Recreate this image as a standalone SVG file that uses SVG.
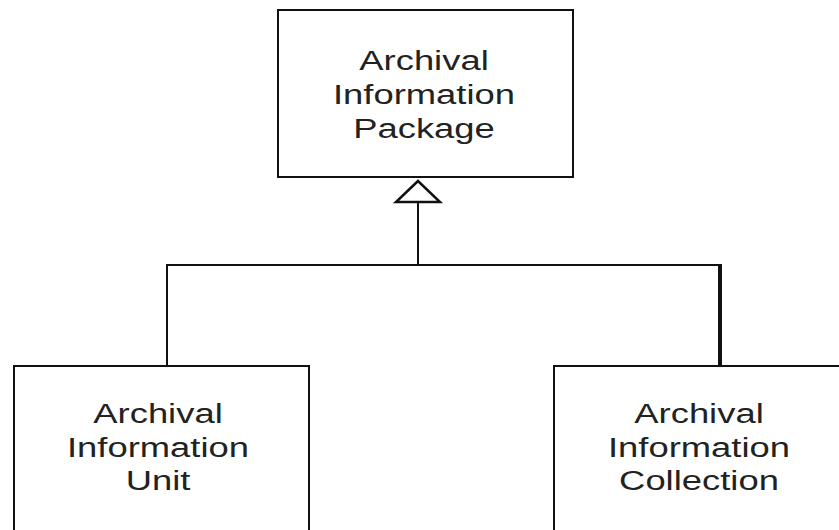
<svg xmlns="http://www.w3.org/2000/svg" width="839" height="530" viewBox="0 0 839 530">
<style>
.box{fill:#fff;stroke:#111;stroke-width:2}
.lbl{font-family:"Liberation Sans",Arial,sans-serif;font-size:28px;fill:#222;text-anchor:middle}
.conn{fill:none;stroke:#111;stroke-width:2}
</style>
<rect width="839" height="530" fill="#fff"/>
<g id="connectors">
<polyline class="conn" points="167,365 167,265 720,265"/>
<line x1="720" y1="264" x2="720" y2="366" stroke="#111" stroke-width="4"/>
<line class="conn" x1="418" y1="202" x2="418" y2="265"/>
<polygon points="418,181 396,202 440,202" fill="#fff" stroke="#111" stroke-width="2.5" stroke-linejoin="miter"/>
</g>
<g id="aip">
<rect class="box" x="278" y="10" width="295" height="167"/>
<g transform="translate(424,0) scale(1.3,1)">
<text class="lbl" x="0" y="70">Archival</text>
<text class="lbl" x="0" y="104">Information</text>
<text class="lbl" x="0" y="138">Package</text>
</g>
</g>
<g id="aiu">
<rect class="box" x="14" y="366" width="295" height="180"/>
<g transform="translate(158,0) scale(1.3,1)">
<text class="lbl" x="0" y="423">Archival</text>
<text class="lbl" x="0" y="457">Information</text>
<text class="lbl" x="0" y="490">Unit</text>
</g>
</g>
<g id="aic">
<rect class="box" x="554" y="366" width="300" height="180"/>
<g transform="translate(699,0) scale(1.3,1)">
<text class="lbl" x="0" y="423">Archival</text>
<text class="lbl" x="0" y="457">Information</text>
<text class="lbl" x="0" y="490">Collection</text>
</g>
</g>
</svg>
